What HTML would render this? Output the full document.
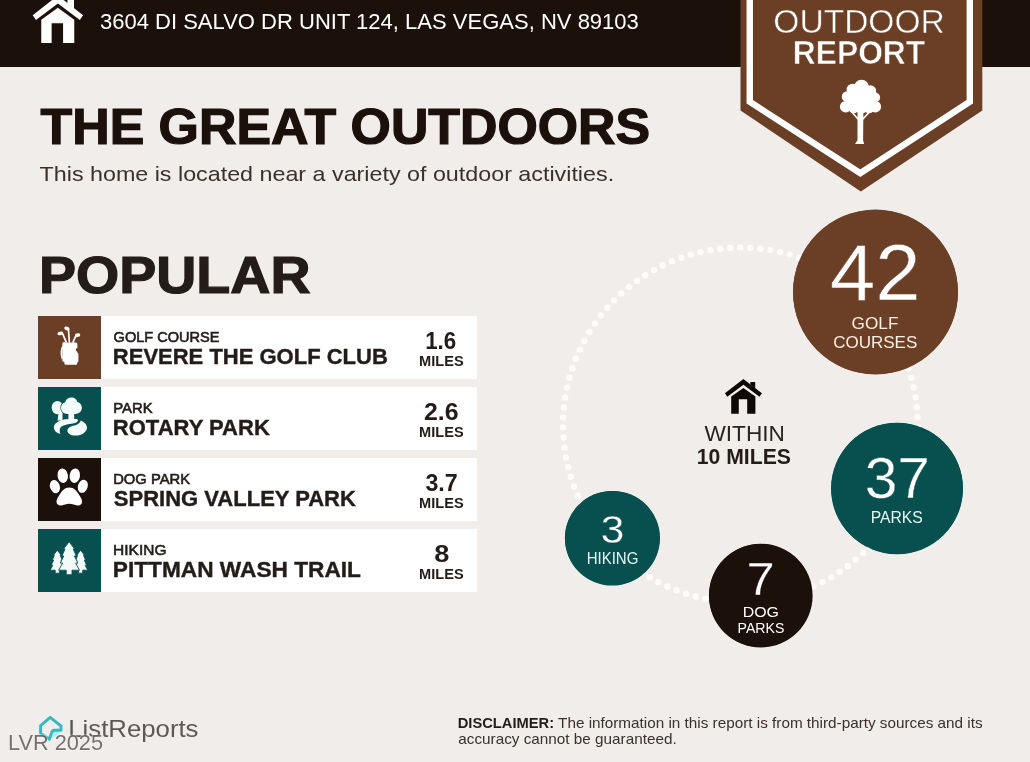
<!DOCTYPE html>
<html><head><meta charset="utf-8"><title>Outdoor Report</title>
<style>
html,body{margin:0;padding:0}
body{width:1030px;height:762px;overflow:hidden;background:#f1edea;position:relative;font-family:"Liberation Sans",sans-serif}
.hdr{position:absolute;left:0;top:0;width:1030px;height:67px;background:#1c100b}
.row{position:absolute;left:100px;width:377px;height:62.5px;background:#fff}
.ib{position:absolute;left:38.1px;width:62.7px;height:62.5px}
.c{position:absolute;border-radius:50%}
svg{position:absolute;left:0;top:0}
text{font-family:"Liberation Sans",sans-serif;white-space:pre}
</style></head><body>
<div class="hdr"></div>
<div class="row" style="top:316.4px"></div><div class="ib" style="top:316.4px;background:#6b3f26"></div>
<div class="row" style="top:387.4px"></div><div class="ib" style="top:387.4px;background:#07504f"></div>
<div class="row" style="top:458.4px"></div><div class="ib" style="top:458.4px;background:#1c100b"></div>
<div class="row" style="top:529.4px"></div><div class="ib" style="top:529.4px;background:#07504f"></div>

<div class="c" style="left:793px;top:209.7px;width:165px;height:164.6px;background:#6b3f26"></div>
<div class="c" style="left:831.3px;top:422.9px;width:131.6px;height:131.2px;background:#07504f"></div>
<div class="c" style="left:564.8px;top:491.1px;width:94.8px;height:94.4px;background:#07504f"></div>
<div class="c" style="left:709.1px;top:543.8px;width:103.4px;height:103.6px;background:#1c100b"></div>
<svg width="1030" height="762" viewBox="0 0 1030 762" style="will-change:transform">
<g id="ringlayer"><g fill="#fdfcfb"><circle cx="917.6" cy="427.4" r="3.2"/><circle cx="917.2" cy="437.4" r="3.2"/><circle cx="916.2" cy="447.4" r="3.2"/><circle cx="914.7" cy="457.3" r="3.2"/><circle cx="912.6" cy="467.1" r="3.2"/><circle cx="909.9" cy="476.8" r="3.2"/><circle cx="906.7" cy="486.3" r="3.2"/><circle cx="902.9" cy="495.6" r="3.2"/><circle cx="898.7" cy="504.7" r="3.2"/><circle cx="893.9" cy="513.5" r="3.2"/><circle cx="888.6" cy="522.1" r="3.2"/><circle cx="882.9" cy="530.3" r="3.2"/><circle cx="876.7" cy="538.2" r="3.2"/><circle cx="870.1" cy="545.7" r="3.2"/><circle cx="863.1" cy="552.9" r="3.2"/><circle cx="855.6" cy="559.6" r="3.2"/><circle cx="847.8" cy="565.9" r="3.2"/><circle cx="839.7" cy="571.8" r="3.2"/><circle cx="831.2" cy="577.2" r="3.2"/><circle cx="822.4" cy="582.1" r="3.2"/><circle cx="813.4" cy="586.4" r="3.2"/><circle cx="804.1" cy="590.3" r="3.2"/><circle cx="794.7" cy="593.7" r="3.2"/><circle cx="785.1" cy="596.5" r="3.2"/><circle cx="775.3" cy="598.7" r="3.2"/><circle cx="765.4" cy="600.4" r="3.2"/><circle cx="755.4" cy="601.6" r="3.2"/><circle cx="745.4" cy="602.1" r="3.2"/><circle cx="735.4" cy="602.1" r="3.2"/><circle cx="725.3" cy="601.6" r="3.2"/><circle cx="715.4" cy="600.4" r="3.2"/><circle cx="705.5" cy="598.7" r="3.2"/><circle cx="695.7" cy="596.5" r="3.2"/><circle cx="686.1" cy="593.7" r="3.2"/><circle cx="676.6" cy="590.3" r="3.2"/><circle cx="667.3" cy="586.5" r="3.2"/><circle cx="658.3" cy="582.1" r="3.2"/><circle cx="649.6" cy="577.2" r="3.2"/><circle cx="641.1" cy="571.8" r="3.2"/><circle cx="632.9" cy="566.0" r="3.2"/><circle cx="625.1" cy="559.7" r="3.2"/><circle cx="617.7" cy="552.9" r="3.2"/><circle cx="610.6" cy="545.8" r="3.2"/><circle cx="604.0" cy="538.2" r="3.2"/><circle cx="597.8" cy="530.4" r="3.2"/><circle cx="592.1" cy="522.1" r="3.2"/><circle cx="586.8" cy="513.6" r="3.2"/><circle cx="582.0" cy="504.7" r="3.2"/><circle cx="577.8" cy="495.7" r="3.2"/><circle cx="574.0" cy="486.4" r="3.2"/><circle cx="570.8" cy="476.8" r="3.2"/><circle cx="568.2" cy="467.2" r="3.2"/><circle cx="566.0" cy="457.4" r="3.2"/><circle cx="564.5" cy="447.4" r="3.2"/><circle cx="563.5" cy="437.5" r="3.2"/><circle cx="563.1" cy="427.4" r="3.2"/><circle cx="563.2" cy="417.4" r="3.2"/><circle cx="563.9" cy="407.4" r="3.2"/><circle cx="565.2" cy="397.4" r="3.2"/><circle cx="567.0" cy="387.6" r="3.2"/><circle cx="569.4" cy="377.8" r="3.2"/><circle cx="572.4" cy="368.2" r="3.2"/><circle cx="575.8" cy="358.8" r="3.2"/><circle cx="579.8" cy="349.6" r="3.2"/><circle cx="584.3" cy="340.7" r="3.2"/><circle cx="589.4" cy="332.0" r="3.2"/><circle cx="594.9" cy="323.6" r="3.2"/><circle cx="600.8" cy="315.5" r="3.2"/><circle cx="607.2" cy="307.8" r="3.2"/><circle cx="614.1" cy="300.4" r="3.2"/><circle cx="621.3" cy="293.5" r="3.2"/><circle cx="628.9" cy="287.0" r="3.2"/><circle cx="636.9" cy="280.9" r="3.2"/><circle cx="645.2" cy="275.3" r="3.2"/><circle cx="653.9" cy="270.1" r="3.2"/><circle cx="662.8" cy="265.5" r="3.2"/><circle cx="671.9" cy="261.3" r="3.2"/><circle cx="681.3" cy="257.7" r="3.2"/><circle cx="690.8" cy="254.7" r="3.2"/><circle cx="700.5" cy="252.1" r="3.2"/><circle cx="710.4" cy="250.2" r="3.2"/><circle cx="720.3" cy="248.7" r="3.2"/><circle cx="730.3" cy="247.9" r="3.2"/><circle cx="740.3" cy="247.6" r="3.2"/><circle cx="750.4" cy="247.9" r="3.2"/><circle cx="760.4" cy="248.7" r="3.2"/><circle cx="770.3" cy="250.1" r="3.2"/><circle cx="780.1" cy="252.1" r="3.2"/><circle cx="789.8" cy="254.6" r="3.2"/><circle cx="799.4" cy="257.7" r="3.2"/><circle cx="808.8" cy="261.3" r="3.2"/><circle cx="817.9" cy="265.5" r="3.2"/><circle cx="826.8" cy="270.1" r="3.2"/><circle cx="835.4" cy="275.2" r="3.2"/><circle cx="843.7" cy="280.9" r="3.2"/><circle cx="851.7" cy="286.9" r="3.2"/><circle cx="859.3" cy="293.5" r="3.2"/><circle cx="866.6" cy="300.4" r="3.2"/><circle cx="873.4" cy="307.7" r="3.2"/><circle cx="879.8" cy="315.5" r="3.2"/><circle cx="885.8" cy="323.5" r="3.2"/><circle cx="891.3" cy="331.9" r="3.2"/><circle cx="896.3" cy="340.6" r="3.2"/><circle cx="900.8" cy="349.6" r="3.2"/><circle cx="904.9" cy="358.8" r="3.2"/><circle cx="908.3" cy="368.2" r="3.2"/><circle cx="911.3" cy="377.8" r="3.2"/><circle cx="913.7" cy="387.5" r="3.2"/><circle cx="915.5" cy="397.4" r="3.2"/><circle cx="916.8" cy="407.3" r="3.2"/><circle cx="917.5" cy="417.3" r="3.2"/></g></g>
<circle cx="875.5" cy="292" r="82.4" fill="#6b3f26"/>
<circle cx="897.1" cy="488.5" r="65.7" fill="#07504f"/>
<circle cx="612.2" cy="538.3" r="47.3" fill="#07504f"/>
<circle cx="760.8" cy="595.6" r="51.8" fill="#1c100b"/>
<polygon points="740.5,0 982.3,0 982.3,110.5 860.8,191.4 740.5,110.5" fill="#6b3f26"/>
<polyline points="749.75,-5 749.75,101.8 860.3,173.3 969.8,101.8 969.8,-5" fill="none" stroke="#fff" stroke-width="6.4" stroke-linejoin="miter"/>
<g fill="#fff"><circle cx="861.5" cy="87.3" r="7.6"/><circle cx="852.6" cy="89.9" r="6.1"/><circle cx="870.4" cy="91.0" r="5.8"/><circle cx="847.3" cy="96.7" r="5.5"/><circle cx="875.1" cy="97.5" r="5.0"/><circle cx="845.7" cy="106.7" r="5.8"/><circle cx="875.3" cy="106.7" r="5.8"/><circle cx="860.4" cy="99.4" r="13.1"/><circle cx="853.6" cy="108.0" r="5.2"/><circle cx="861.5" cy="107.2" r="6.3"/><circle cx="869.0" cy="108.0" r="5.2"/><path d="M857.5 111.4 L863.4 111.4 L863.1 140.3 L864.1 144.0 L855.0 144.0 L857.5 140.3 Z"/><path d="M851.5 111.4 L858.1 119.3 M869.9 111.4 L862.7 119.3" stroke="#fff" stroke-width="1.6" fill="none"/></g>
<g fill="#fff"><polygon points="57.90,-4.50 83.12,15.13 79.84,19.90 57.90,3.54 35.96,19.90 32.68,15.13"/><polygon points="67.44,-0.27 73.98,-0.27 73.98,8.58 67.44,3.41"/><polygon points="57.90,7.77 74.26,19.63 74.26,42.93 63.08,42.93 63.08,23.17 51.63,23.17 51.63,42.93 41.27,42.93 41.27,19.63"/></g>
<g fill="#0d0806"><polygon points="743.40,378.90 761.90,393.30 759.50,396.80 743.40,384.80 727.30,396.80 724.90,393.30"/><polygon points="750.40,382.00 755.20,382.00 755.20,388.50 750.40,384.70"/><polygon points="743.40,387.90 755.40,396.60 755.40,413.70 747.20,413.70 747.20,399.20 738.80,399.20 738.80,413.70 731.20,413.70 731.20,396.60"/></g>
<g transform="translate(38 316)" fill="#fff" stroke="none">
<path d="M27.2 26.6 h10.6 q1.6 0 1.6 1.6 v3.6 q-1.6 .4 -1.6 2 q0 1.4 1.4 1.8 v1 q1.2 .4 1.2 1.8 v6.6 q0 1.2 -1.2 1.4 v1 q0 1.4 -1.4 1.4 h-10 q-1.4 0 -1.4 -1.4 v-1.6 h-1 q-1 0 -1 -1 v-17.2 q0 -1.6 1.6 -1.6 z"/>
<path d="M25.8 29.4 q-4 5 -1.4 13.4" fill="none" stroke="#fff" stroke-width="1.7"/>
<path d="M28.4 26.6 L24.6 17.6 M31.4 26.6 L30.4 12.8 M34.8 26.6 L38.2 19.2" stroke="#fff" stroke-width="1.7" fill="none"/>
<ellipse cx="22.3" cy="17.4" rx="2.9" ry="1.8" transform="rotate(-12 22.3 17.4)"/>
<ellipse cx="28.9" cy="12.5" rx="2.7" ry="1.9" transform="rotate(15 28.9 12.5)"/>
<ellipse cx="39.6" cy="19.2" rx="2.7" ry="1.9" transform="rotate(-10 39.6 19.2)"/>
</g>
<g transform="translate(38 387)" fill="#f3fbfa">
<ellipse cx="19.4" cy="20.6" rx="5.7" ry="6.7"/>
<path d="M20.6 25 L24.6 25 L24.4 33.4 L19.6 33.4 Z"/>
<g stroke="#07504f" stroke-width="1.3" paint-order="stroke">
<path d="M33.5 10.4 c3.2 0 5.5 2.1 5.9 4.7 c2.7 .7 4.5 3 4.5 5.7 c0 3.9 -3.2 6.2 -6.6 6.2 l-1.1 0 l0 6.6 l-5.8 0 l0 -6.6 l-1 0 c-3.6 0 -6.400000000000001 -2.6 -6.400000000000001 -6.2 c0 -2.8 1.8 -4.9 4.2 -5.6 c.5 -2.8 3 -4.8 6.300000000000001 -4.8 z"/>
</g>
<path d="M37.8 31.9 c1.2 0 2.1 .4 2.1 1.3 c0 2 -2.6 3 -6.4 3.6 c-5 .8 -9.6 1.6 -11 3.8 c-1 1.6 -1 3.8 -.2 6.4 c-3.2 -.8 -6.2 -3 -6.4 -6.2 c-.2 -3.6 3 -6 6.8 -7.4 c1.4 -.5 3 -1 4.6 -1.2 z"/>
<path d="M42.8 33.4 c4 1.8 6.4 4.6 6.2 7.6 c-.2 4 -5.2 7.4 -11.4 7.6 c-4.6 .2 -8.4 -2 -8.2 -5 c.2 -3.6 5 -4.6 8.6 -5.6 c2.4 -.8 4 -2.4 4.8 -4.6 z"/>
</g>
<g transform="translate(38 458)" fill="#fff">
<ellipse cx="16.9" cy="28.6" rx="4.9" ry="6.7" transform="rotate(-18 16.9 28.6)"/>
<ellipse cx="24.7" cy="17.7" rx="5.2" ry="7.3" transform="rotate(-8 24.7 17.7)"/>
<ellipse cx="36.8" cy="17.7" rx="5.2" ry="7.3" transform="rotate(8 36.8 17.7)"/>
<ellipse cx="44.8" cy="28.3" rx="4.9" ry="6.7" transform="rotate(18 44.8 28.3)"/>
<path d="M31.3 29.6 c4.6 0 7.6 3.4 9.6 7 c1.6 2.8 3.4 5 3.2 7.4 c-.2 2.6 -2.4 3.8 -4.800000000000001 3.4 c-2.6 -.4 -4.8 -1.6 -8 -1.6 c-3.2 0 -5.4 1.2 -8 1.6 c-2.4 .4 -4.6 -.8 -4.800000000000001 -3.4 c-.2 -2.4 1.6 -4.6 3.2 -7.4 c2 -3.6 5 -7 9.6 -7 z"/>
</g>
<g transform="translate(38 529)" fill="#f3fbfa" stroke="#07504f" stroke-width="0.9" stroke-linejoin="miter">
<polygon points="19.3,21.2 23.2,26.2 22.2,26.2 24.3,31.2 23.0,31.2 25.4,36.2 23.8,36.2 26.5,41.2 21.4,41.2 21.4,44.2 17.2,44.2 17.2,41.2 12.1,41.2 14.8,36.2 13.2,36.2 15.6,31.2 14.3,31.2 16.4,26.2 15.4,26.2"/>
<polygon points="42.6,21.2 46.5,26.2 45.5,26.2 47.6,31.2 46.3,31.2 48.7,36.2 47.1,36.2 49.8,41.2 44.7,41.2 44.7,44.2 40.5,44.2 40.5,41.2 35.4,41.2 38.1,36.2 36.5,36.2 38.9,31.2 37.6,31.2 39.7,26.2 38.7,26.2"/>
<polygon points="31.1,12.8 36.7,19.9 35.2,19.9 38.3,27.0 36.4,27.0 39.9,34.1 37.6,34.1 41.5,41.2 34.0,41.2 34.0,45.8 28.2,45.8 28.2,41.2 20.7,41.2 24.6,34.1 22.3,34.1 25.8,27.0 23.9,27.0 27.0,19.9 25.5,19.9"/>
</g>
<polygon points="53.2,731.6 60.6,731.6 58,734.6 51.4,738.6" fill="#a5ebec" opacity="0.85"/>
<g fill="none" stroke="#36b9be" stroke-width="2.9" stroke-linejoin="round" stroke-linecap="round">
<path d="M50.2 717.4 L61 726 L61 730.2 L54.5 730.2 Q52.2 730.4 51.6 732.6 L49.4 739.2 L40.6 733.4 L40.6 725.6 Z"/></g>
<text transform="translate(99.91 29.10) scale(0.9851 1)" font-size="22.37" font-weight="400" fill="#fff">3604 DI SALVO DR UNIT 124, LAS VEGAS, NV 89103</text>
<text transform="translate(773.28 33.05) scale(1.0231 1)" font-size="32.82" font-weight="400" fill="#fff" stroke="#6b3f26" stroke-width="0.49">OUTDOOR</text>
<text transform="translate(792.76 63.85) scale(0.9563 1)" font-size="33.26" font-weight="700" fill="#fff" stroke="#6b3f26" stroke-width="0.52">REPORT</text>
<text transform="translate(40.55 144.45) scale(1.0409 1)" font-size="49.82" font-weight="700" fill="#1c100b" stroke="#1c100b" stroke-width="1.25">THE GREAT OUTDOORS</text>
<text transform="translate(39.54 181.30) scale(1.1137 1)" font-size="20.92" font-weight="400" fill="#3a302c">This home is located near a variety of outdoor activities.</text>
<text transform="translate(38.88 293.25) scale(1.0749 1)" font-size="51.71" font-weight="700" fill="#231c19" stroke="#231c19" stroke-width="1.21">POPULAR</text>
<text transform="translate(113.62 342.10) scale(1.0544 1)" font-size="13.80" font-weight="400" fill="#231c19" stroke="#231c19" stroke-width="0.57">GOLF COURSE</text>
<text transform="translate(112.83 363.80) scale(1.0232 1)" font-size="21.50" font-weight="700" fill="#231c19" stroke="#231c19" stroke-width="0.39">REVERE THE GOLF CLUB</text>
<text transform="translate(425.20 348.80) scale(0.9673 1)" font-size="23.09" font-weight="700" fill="#231c19">1.6</text>
<text transform="translate(419.09 366.20) scale(0.9852 1)" font-size="14.81" font-weight="700" fill="#231c19">MILES</text>
<text transform="translate(113.13 413.10) scale(1.0814 1)" font-size="13.80" font-weight="400" fill="#231c19" stroke="#231c19" stroke-width="0.55">PARK</text>
<text transform="translate(112.82 434.80) scale(1.0247 1)" font-size="21.50" font-weight="700" fill="#231c19" stroke="#231c19" stroke-width="0.39">ROTARY PARK</text>
<text transform="translate(423.92 419.80) scale(1.0777 1)" font-size="23.09" font-weight="700" fill="#231c19">2.6</text>
<text transform="translate(419.09 437.20) scale(0.9852 1)" font-size="14.81" font-weight="700" fill="#231c19">MILES</text>
<text transform="translate(113.14 484.10) scale(1.0738 1)" font-size="13.80" font-weight="400" fill="#231c19" stroke="#231c19" stroke-width="0.56">DOG PARK</text>
<text transform="translate(113.86 505.80) scale(1.0234 1)" font-size="21.50" font-weight="700" fill="#231c19" stroke="#231c19" stroke-width="0.39">SPRING VALLEY PARK</text>
<text transform="translate(425.44 490.80) scale(1.0063 1)" font-size="23.09" font-weight="700" fill="#231c19">3.7</text>
<text transform="translate(419.09 508.20) scale(0.9852 1)" font-size="14.81" font-weight="700" fill="#231c19">MILES</text>
<text transform="translate(113.09 555.10) scale(1.1250 1)" font-size="13.80" font-weight="400" fill="#231c19" stroke="#231c19" stroke-width="0.53">HIKING</text>
<text transform="translate(112.78 576.80) scale(1.0551 1)" font-size="21.50" font-weight="700" fill="#231c19" stroke="#231c19" stroke-width="0.38">PITTMAN WASH TRAIL</text>
<text transform="translate(434.15 561.80) scale(1.1778 1)" font-size="23.09" font-weight="700" fill="#231c19">8</text>
<text transform="translate(419.09 579.20) scale(0.9852 1)" font-size="14.81" font-weight="700" fill="#231c19">MILES</text>
<text transform="translate(829.88 299.65) scale(1.0113 1)" font-size="80.61" font-weight="400" fill="#fff" stroke="#6b3f26" stroke-width="0.49">42</text>
<text transform="translate(851.59 329.30) scale(1.0306 1)" font-size="16.70" font-weight="400" fill="#fbeee2">GOLF</text>
<text transform="translate(833.20 348.00) scale(1.0095 1)" font-size="16.85" font-weight="400" fill="#fbeee2">COURSES</text>
<text transform="translate(864.66 498.20) scale(1.0340 1)" font-size="56.79" font-weight="400" fill="#fff" stroke="#07504f" stroke-width="0.39">37</text>
<text transform="translate(870.67 522.80) scale(0.9590 1)" font-size="16.41" font-weight="400" fill="#e4f6f4">PARKS</text>
<text transform="translate(600.73 543.35) scale(1.0674 1)" font-size="39.65" font-weight="400" fill="#fff" stroke="#07504f" stroke-width="0.28">3</text>
<text transform="translate(586.63 564.30) scale(0.9411 1)" font-size="15.98" font-weight="400" fill="#e4f6f4">HIKING</text>
<text transform="translate(746.58 595.45) scale(1.0744 1)" font-size="47.06" font-weight="400" fill="#fff" stroke="#1c100b" stroke-width="0.28">7</text>
<text transform="translate(742.76 617.30) scale(1.0736 1)" font-size="14.81" font-weight="400" fill="#fff">DOG</text>
<text transform="translate(737.60 633.30) scale(0.9343 1)" font-size="15.11" font-weight="400" fill="#fff">PARKS</text>
<text transform="translate(704.40 440.60) scale(1.0197 1)" font-size="22.22" font-weight="400" fill="#2b2421">WITHIN</text>
<text transform="translate(696.77 464.30) scale(0.9300 1)" font-size="22.80" font-weight="700" fill="#231c19">10 MILES</text>
<text transform="translate(68.29 736.60) scale(1.0884 1)" font-size="23.67" font-weight="400" fill="#5d5856">ListReports</text>
<text transform="translate(457.68 727.80) scale(0.9941 1)" font-size="14.81" font-weight="700" fill="#231c19">DISCLAIMER:</text>
<text transform="translate(558.06 727.80) scale(1.0121 1)" font-size="15.11" font-weight="400" fill="#3a302c">The information in this report is from third-party sources and its</text>
<text transform="translate(458.32 743.80) scale(1.0122 1)" font-size="15.11" font-weight="400" fill="#3a302c">accuracy cannot be guaranteed.</text>
<text x="7.9" y="749.6" font-size="21.6" fill="#5f5a57" fill-opacity="0.86" stroke="#faf9f8" stroke-opacity="0.55" stroke-width="1.2" paint-order="stroke" textLength="95.2" lengthAdjust="spacingAndGlyphs">LVR 2025</text>
</svg>
</body></html>
